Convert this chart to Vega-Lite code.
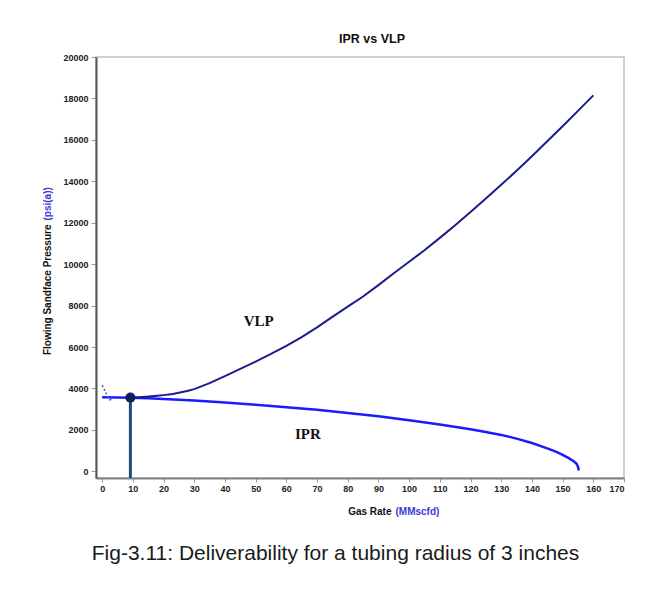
{
  "$schema": "https://vega.github.io/schema/vega-lite/v6.json",
  "width": 528,
  "height": 421,
  "autosize": {"type": "none"},
  "padding": {"left": 96, "top": 57, "right": 26, "bottom": 126},
  "background": "white",
  "title": {"text": "IPR vs VLP", "font": "Liberation Sans", "fontSize": 12.5, "fontWeight": "bold", "color": "#111111", "offset": 8, "dx": 12},
  "datasets": {
    "vlp": [
      {"q": 9.2, "P": 3560}, {"q": 12, "P": 3580}, {"q": 15, "P": 3610}, {"q": 18, "P": 3650},
      {"q": 20, "P": 3680}, {"q": 23, "P": 3730}, {"q": 25, "P": 3790}, {"q": 28, "P": 3890},
      {"q": 30, "P": 3970}, {"q": 35, "P": 4260}, {"q": 40, "P": 4600}, {"q": 45, "P": 4950},
      {"q": 50, "P": 5300}, {"q": 55, "P": 5670}, {"q": 60, "P": 6060}, {"q": 65, "P": 6480},
      {"q": 70, "P": 6950}, {"q": 75, "P": 7460}, {"q": 80, "P": 7950}, {"q": 85, "P": 8440},
      {"q": 90, "P": 8990}, {"q": 95, "P": 9560}, {"q": 100, "P": 10120}, {"q": 105, "P": 10670},
      {"q": 110, "P": 11270}, {"q": 115, "P": 11880}, {"q": 120, "P": 12520}, {"q": 125, "P": 13170},
      {"q": 130, "P": 13830}, {"q": 135, "P": 14510}, {"q": 140, "P": 15210}, {"q": 145, "P": 15930},
      {"q": 150, "P": 16660}, {"q": 155, "P": 17400}, {"q": 160, "P": 18150}
    ],
    "ipr": [
      {"q": 0, "P": 3580}, {"q": 5, "P": 3570}, {"q": 9.2, "P": 3555}, {"q": 15, "P": 3525},
      {"q": 20, "P": 3490}, {"q": 30, "P": 3415}, {"q": 40, "P": 3325}, {"q": 50, "P": 3220},
      {"q": 60, "P": 3100}, {"q": 70, "P": 2970}, {"q": 80, "P": 2820}, {"q": 90, "P": 2655},
      {"q": 100, "P": 2470}, {"q": 110, "P": 2265}, {"q": 120, "P": 2030}, {"q": 125, "P": 1900},
      {"q": 130, "P": 1760}, {"q": 135, "P": 1580}, {"q": 140, "P": 1370}, {"q": 145, "P": 1110},
      {"q": 148, "P": 940}, {"q": 150, "P": 800}, {"q": 152, "P": 640}, {"q": 153.5, "P": 500},
      {"q": 154.5, "P": 380}, {"q": 155, "P": 230}, {"q": 155.3, "P": 40}
    ],
    "unstable": [
      {"q": 0, "P": 4150}, {"q": 2.4, "P": 3460}, {"q": 3.6, "P": 3480}
    ],
    "op": [
      {"q": 9.2, "P": 3560}
    ],
    "labels": [
      {"q": 51, "P": 7250, "label": "VLP"},
      {"q": 67, "P": 1790, "label": "IPR"}
    ]
  },
  "config": {
    "view": {"stroke": "#cfcfcf", "strokeWidth": 2},
    "axis": {
      "grid": false,
      "labelFont": "Liberation Sans", "labelFontWeight": "bold", "labelFontSize": 9, "labelColor": "#222222",
      "titleFont": "Liberation Sans", "titleFontWeight": "bold", "titleFontSize": 10, "titleColor": "#111111",
      "tickColor": "#999999", "tickSize": 5, "domainColor": "#555555", "domainWidth": 2
    }
  },
  "resolve": {"axis": {"x": "independent", "y": "independent"}},
  "layer": [
    {
      "data": {"name": "ipr"},
      "mark": {"type": "line", "color": "#1a1aff", "strokeWidth": 2.5},
      "encoding": {
        "x": {"field": "q", "type": "quantitative",
              "scale": {"domain": [-2, 170], "nice": false, "zero": false},
              "axis": {"orient": "bottom", "values": [0,10,20,30,40,50,60,70,80,90,100,110,120,130,140,150,160,170],
                       "format": "d", "domainColor": "#808080", "tickSize": 4, "labelPadding": 2,
                       "title": "Gas Rate", "titleAlign": "right", "titleX": 295, "titleY": 28, "titleBaseline": "top"}},
        "y": {"field": "P", "type": "quantitative",
              "scale": {"domain": [-320, 20000], "nice": false, "zero": false},
              "axis": {"orient": "left", "values": [0,2000,4000,6000,8000,10000,12000,14000,16000,18000,20000],
                       "format": "d", "labelPadding": 3,
                       "title": "Flowing Sandface Pressure", "titleAngle": 270, "titleAlign": "right",
                       "titleX": -44, "titleY": 167, "titleBaseline": "bottom"}}
      }
    },
    {
      "data": {"name": "vlp"},
      "mark": {"type": "line", "color": "#1c1c8c", "strokeWidth": 2},
      "encoding": {
        "x": {"field": "q", "type": "quantitative", "scale": {"domain": [-2, 170], "nice": false, "zero": false}, "axis": null},
        "y": {"field": "P", "type": "quantitative", "scale": {"domain": [-320, 20000], "nice": false, "zero": false}, "axis": null}
      }
    },
    {
      "data": {"name": "unstable"},
      "mark": {"type": "line", "color": "#4a4ad0", "strokeWidth": 1.5, "strokeDash": [2, 2]},
      "encoding": {
        "x": {"field": "q", "type": "quantitative", "scale": {"domain": [-2, 170], "nice": false, "zero": false}, "axis": null},
        "y": {"field": "P", "type": "quantitative", "scale": {"domain": [-320, 20000], "nice": false, "zero": false}, "axis": null}
      }
    },
    {
      "data": {"name": "op"},
      "mark": {"type": "rule", "color": "#1f4a7a", "strokeWidth": 3},
      "encoding": {
        "x": {"field": "q", "type": "quantitative", "scale": {"domain": [-2, 170], "nice": false, "zero": false},
              "axis": {"orient": "bottom", "domain": false, "ticks": false, "labels": false,
                       "title": "Fig-3.11: Deliverability for a tubing radius of 3 inches",
                       "titleFont": "Liberation Sans", "titleFontWeight": "normal", "titleFontSize": 21, "titleColor": "#1a1a1a",
                       "titleAlign": "center", "titleX": 239, "titleY": 64, "titleBaseline": "top"}},
        "y": {"field": "P", "type": "quantitative", "scale": {"domain": [-320, 20000], "nice": false, "zero": false}, "axis": null},
        "y2": {"value": "height"}
      }
    },
    {
      "data": {"name": "op"},
      "mark": {"type": "point", "shape": "circle", "filled": true, "color": "#10205a", "size": 100, "opacity": 1},
      "encoding": {
        "x": {"field": "q", "type": "quantitative", "scale": {"domain": [-2, 170], "nice": false, "zero": false},
              "axis": {"orient": "bottom", "domain": false, "ticks": false, "labels": false,
                       "title": "(MMscfd)", "titleColor": "#3a3ad6", "titleAlign": "left", "titleX": 299, "titleY": 28, "titleBaseline": "top"}},
        "y": {"field": "P", "type": "quantitative", "scale": {"domain": [-320, 20000], "nice": false, "zero": false},
              "axis": {"orient": "left", "domain": false, "ticks": false, "labels": false,
                       "title": "(psi(a))", "titleColor": "#3a3ad6", "titleAngle": 270, "titleAlign": "left",
                       "titleX": -44, "titleY": 163, "titleBaseline": "bottom"}}
      }
    },
    {
      "data": {"name": "labels"},
      "mark": {"type": "text", "font": "Liberation Serif", "fontWeight": "bold", "fontSize": 15, "color": "#111111", "baseline": "middle", "align": "center"},
      "encoding": {
        "x": {"field": "q", "type": "quantitative", "scale": {"domain": [-2, 170], "nice": false, "zero": false}, "axis": null},
        "y": {"field": "P", "type": "quantitative", "scale": {"domain": [-320, 20000], "nice": false, "zero": false}, "axis": null},
        "text": {"field": "label", "type": "nominal"}
      }
    }
  ]
}
